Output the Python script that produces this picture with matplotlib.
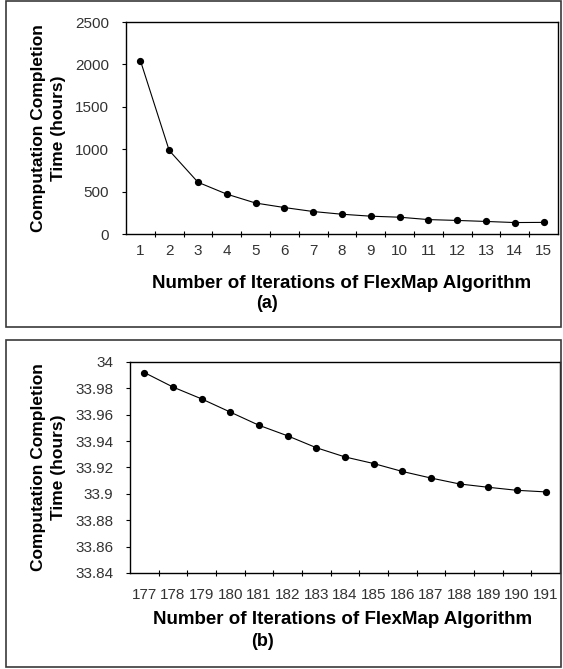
import matplotlib
matplotlib.use("Agg")
import matplotlib.pyplot as plt
from matplotlib.patches import Rectangle
from matplotlib.ticker import FixedLocator

plt.rcParams['font.family'] = ['Liberation Sans', 'DejaVu Sans']

# Panel (a)
iters_a = list(range(1, 16))
time_a = [2045, 985, 610, 470, 365, 312, 265, 233, 210, 198, 170, 160, 148, 135, 137]
yticks_a = [0, 500, 1000, 1500, 2000, 2500]

# Panel (b)
iters_b = list(range(177, 192))
time_b = [33.992, 33.981, 33.972, 33.962, 33.952, 33.944, 33.935, 33.928,
          33.923, 33.917, 33.912, 33.9075, 33.905, 33.9027, 33.9015]
yticks_b = [33.84, 33.86, 33.88, 33.90, 33.92, 33.94, 33.96, 33.98, 34.0]
ytick_labels_b = ['33.84', '33.86', '33.88', '33.9', '33.92', '33.94', '33.96', '33.98', '34']

xlabel = "Number of Iterations of FlexMap Algorithm"
ylabel = "Computation Completion\nTime (hours)"

W, H = 563, 669
fig = plt.figure(figsize=(W / 100, H / 100), dpi=100)

def px_rect(x0, y0, x1, y1):
    return [x0 / W, 1 - y1 / H, (x1 - x0) / W, (y1 - y0) / H]

# panel borders
for (x0, y0, x1, y1) in [(6, 1, 561, 327), (6, 340, 561, 667)]:
    l, b, w, h = px_rect(x0, y0, x1, y1)
    fig.patches.append(Rectangle((l, b), w, h, transform=fig.transFigure,
                                 fill=False, edgecolor='#3a3a3a', lw=1.2))

tick_color = '#333333'

def style(ax, cats, vals, yt, ytl, ylim, xpad):
    n = len(cats)
    pos = [i + 0.5 for i in range(n)]
    ax.plot(pos, vals, color='black', lw=0.8, marker='o', markersize=4.2)
    ax.set_xlim(0, n)
    ax.set_ylim(*ylim)
    ax.set_yticks(yt)
    ax.set_yticklabels(ytl)
    ax.set_xticks(pos)
    ax.set_xticklabels([str(c) for c in cats])
    ax.xaxis.set_minor_locator(FixedLocator(list(range(1, n))))
    ax.tick_params(axis='x', which='major', length=0, pad=xpad, labelsize=11, labelcolor=tick_color)
    ax.tick_params(axis='x', which='minor', direction='inout', length=5, width=0.8)
    ax.tick_params(axis='y', which='major', direction='out', length=3, width=0.8, pad=9,
                   labelsize=11, labelcolor=tick_color)
    for s in ax.spines.values():
        s.set_linewidth(1.0)
        s.set_color('black')
    ax.set_ylabel(ylabel, fontsize=12.5, fontweight='bold', linespacing=1.4)

ax1 = fig.add_axes(px_rect(126, 22, 558, 234))
style(ax1, iters_a, time_a, yticks_a, [str(v) for v in yticks_a], (0, 2500), 7)
ax1.yaxis.set_label_coords((66 - 126) / 432, 0.5)
fig.text(342 / W, 1 - 283 / H, xlabel, ha='center', va='center', fontsize=13.5, fontweight='bold')
fig.text(267 / W, 1 - 303 / H, "(a)", ha='center', va='center', fontsize=13, fontweight='bold')

ax2 = fig.add_axes(px_rect(130, 362, 560, 573))
style(ax2, iters_b, time_b, yticks_b, ytick_labels_b, (33.84, 34.0), 11)
ax2.yaxis.set_label_coords((66 - 130) / 430, 0.5)
fig.text(343 / W, 1 - 620 / H, xlabel, ha='center', va='center', fontsize=13.5, fontweight='bold')
fig.text(262 / W, 1 - 641 / H, "(b)", ha='center', va='center', fontsize=13, fontweight='bold')

fig.savefig("out.png", dpi=100)
